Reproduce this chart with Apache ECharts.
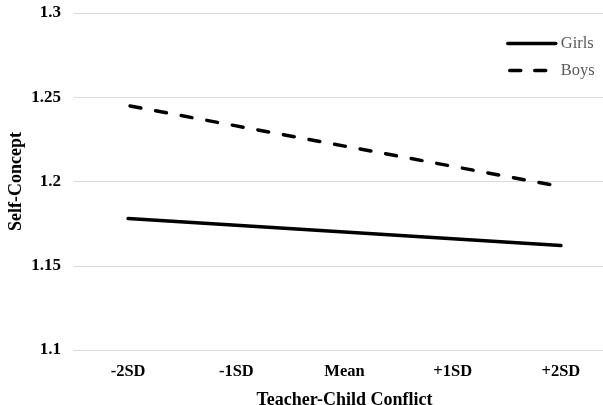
<!DOCTYPE html>
<html>
<head>
<meta charset="utf-8">
<script src="https://cdn.jsdelivr.net/npm/echarts@6/dist/echarts.min.js"></script>
<style>
html,body{margin:0;padding:0;background:#fff;}
#c{width:603px;height:405px;}
</style>
</head>
<body>
<div id="c"></div>
<script>
var categories = ['-2SD', '-1SD', 'Mean', '+1SD', '+2SD'];
var girls = [1.178, 1.174, 1.170, 1.166, 1.162];
var boys = [1.245, 1.233, 1.221, 1.209, 1.197];
var yTicks = [1.1, 1.15, 1.2, 1.25, 1.3];

var FONT = '"Liberation Serif", "DejaVu Serif", serif';
var chart = echarts.init(document.getElementById('c'));
chart.setOption({
  animation: false,
  backgroundColor: '#fff',
  textStyle: { fontFamily: FONT },
  grid: { left: 74, top: 13, width: 541, height: 337, outerBoundsMode: 'none', containLabel: false },
  legend: {
    orient: 'vertical',
    left: 501,
    top: 30,
    itemWidth: 48,
    itemHeight: 14,
    itemGap: 10,
    itemStyle: { opacity: 0 },
    textStyle: { fontFamily: FONT, fontSize: 16.5, color: '#595959' },
    data: [
      { name: 'Girls', lineStyle: { width: 3.5, cap: 'round' } },
      { name: 'Boys', lineStyle: { width: 3.5, type: [11, 14], dashOffset: -2, cap: 'round' } }
    ]
  },
  xAxis: {
    type: 'category',
    data: categories,
    boundaryGap: true,
    name: 'Teacher-Child Conflict',
    nameLocation: 'middle',
    nameGap: 41,
    nameTextStyle: { fontFamily: FONT, fontSize: 18, fontWeight: 'bold', color: '#000' },
    axisLine: { lineStyle: { color: '#d9d9d9', width: 1 } },
    axisTick: { show: false },
    axisLabel: { fontFamily: FONT, fontSize: 16.5, fontWeight: 'bold', color: '#000', margin: 13 },
    splitLine: { show: false }
  },
  yAxis: {
    type: 'value',
    min: yTicks[0],
    max: yTicks[yTicks.length - 1],
    interval: 0.05,
    name: 'Self-Concept',
    nameLocation: 'middle',
    nameGap: 49,
    nameRotate: 90,
    nameMoveOverlap: false,
    nameTextStyle: { fontFamily: FONT, fontSize: 18, fontWeight: 'bold', color: '#000' },
    axisLine: { show: false },
    axisTick: { show: false },
    axisLabel: {
      fontFamily: FONT, fontSize: 17, fontWeight: 'bold', color: '#000', margin: 13,
      formatter: function (v) { return String(parseFloat(v.toFixed(2))); }
    },
    splitLine: { lineStyle: { color: '#d9d9d9', width: 1 } }
  },
  series: [
    {
      name: 'Girls',
      type: 'line',
      data: girls,
      symbol: 'none',
      lineStyle: { color: '#000', width: 3.5, cap: 'round' },
      itemStyle: { color: '#000' }
    },
    {
      name: 'Boys',
      type: 'line',
      data: boys,
      symbol: 'none',
      lineStyle: { color: '#000', width: 3.5, type: [11, 15], dashOffset: -2, cap: 'round' },
      itemStyle: { color: '#000' }
    }
  ]
});
</script>
</body>
</html>
